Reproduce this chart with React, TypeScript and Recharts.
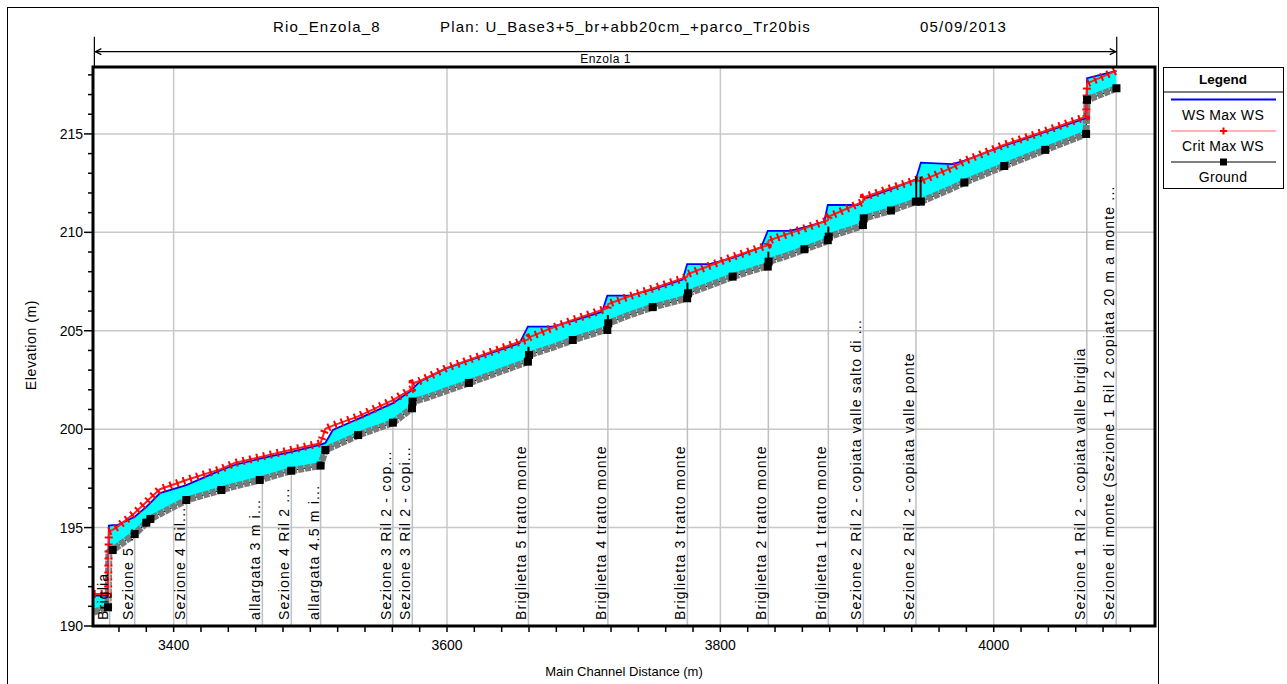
import React from "react";
import { Area, ComposedChart, Line, ReferenceArea, ReferenceLine, XAxis, YAxis } from "recharts";

// river stations (m) and elevations (m)
const station = [
  3341.5, 3352.0, 3352.6, 3355.4, 3359.0, 3371.5, 3380.0, 3383.0, 3390.0, 3409.3,
  3434.9, 3444.6, 3463.0, 3486.0, 3507.5, 3511.0, 3516.5, 3531.0, 3535.0, 3560.4,
  3574.4, 3574.8, 3580.0, 3584.0, 3599.4, 3616.0, 3653.0, 3659.2, 3660.0, 3677.0,
  3692.0, 3713.5, 3717.3, 3718.0, 3733.4, 3750.5, 3772.4, 3775.7, 3776.3, 3792.0,
  3809.0, 3829.8, 3834.7, 3835.3, 3850.5, 3861.5, 3876.0, 3878.6, 3879.3, 3900.4,
  3904.3, 3904.9, 3924.8, 3943.0, 3946.7, 3969.9, 3978.5, 4007.7, 4037.7, 4067.6,
  4068.3, 4089.8,
];
const ground = [
  190.70, 190.95, 193.75, 193.86, 194.04, 194.67, 195.25, 195.44, 195.70, 196.40,
  196.91, 197.10, 197.42, 197.89, 198.15, 198.94, 199.12, 199.56, 199.70, 200.33,
  201.06, 201.40, 201.50, 201.57, 201.95, 202.35, 203.28, 203.43, 203.77, 204.15,
  204.53, 205.00, 205.04, 205.38, 205.80, 206.20, 206.60, 206.65, 206.90, 207.30,
  207.75, 208.20, 208.26, 208.51, 208.85, 209.14, 209.50, 209.60, 209.78, 210.25,
  210.37, 210.71, 211.11, 211.56, 211.56, 212.25, 212.53, 213.37, 214.19, 215.00,
  216.73, 217.32,
];
const wsMax = [
  191.55, 191.55, 195.10, 195.13, 195.13, 195.55, 196.05, 196.25, 196.75, 197.16,
  197.93, 198.18, 198.50, 198.85, 199.22, 199.30, 199.96, 200.40, 200.52, 201.32,
  201.99, 202.05, 202.41, 202.55, 203.09, 203.50, 204.36, 205.21, 205.21, 205.21,
  205.50, 205.97, 206.78, 206.78, 206.78, 207.10, 207.60, 208.39, 208.39, 208.39,
  208.70, 209.24, 210.07, 210.07, 210.07, 210.25, 210.55, 211.39, 211.39, 211.39,
  211.55, 211.70, 212.20, 212.69, 213.54, 213.47, 213.65, 214.40, 215.10, 215.80,
  217.83, 218.20,
];
const critMax = [
  191.62, 191.62, 194.80, 194.88, 195.05, 195.74, 196.30, 196.50, 196.95, 197.42,
  197.98, 198.28, 198.58, 198.95, 199.29, 200.02, 200.18, 200.55, 200.65, 201.48,
  202.05, 202.33, 202.45, 202.58, 203.10, 203.52, 204.44, 204.55, 204.66, 205.15,
  205.55, 206.06, 206.15, 206.36, 206.75, 207.15, 207.66, 207.75, 207.88, 208.30,
  208.75, 209.24, 209.35, 209.58, 209.95, 210.20, 210.55, 210.60, 210.80, 211.44,
  211.55, 211.78, 212.25, 212.66, 212.60, 213.30, 213.62, 214.45, 215.15, 215.88,
  217.57, 218.22,
];
// surveyed cross sections (black squares), the rest are interpolated
const xsStations = [
  3352.0, 3355.4, 3371.5, 3380.0, 3383.0, 3409.3, 3434.9, 3463.0, 3486.0, 3507.5,
  3511.0, 3535.0, 3560.4, 3574.4, 3574.8, 3616.0, 3659.2, 3660.0, 3692.0, 3717.3,
  3718.0, 3750.5, 3775.7, 3776.3, 3809.0, 3834.7, 3835.3, 3861.5, 3878.6, 3879.3,
  3904.3, 3904.9, 3924.8, 3943.0, 3946.7, 3978.5, 4007.7, 4037.7, 4067.6, 4068.3,
  4089.8,
];

// weirs / bridge faces drawn as black verticals
const structStation = [3659.6, 3717.7, 3775.9, 3835.1, 3879.0, 3943.3, 3946.5];
const structTop = [204.19, 205.8, 207.45, 209.02, 210.29, 212.83, 212.83];
const structBottom = [203.35, 204.9, 206.56, 208.09, 209.45, 211.48, 211.48];

// labelled sections
const secStation = [
  3353.2, 3371.5, 3409.5, 3464.9, 3486.1, 3507.5, 3560.4, 3574.6, 3659.6, 3717.7,
  3775.9, 3835.1, 3879.0, 3904.6, 3943.1, 4068.1, 4089.6,
];
const secGround = [
  193.8, 194.67, 196.4, 197.45, 197.89, 198.15, 200.33, 201.06, 203.43, 205.04,
  206.65, 208.26, 209.6, 210.37, 211.56, 215.0, 217.32,
];
const secLabel = [
  "Briglia",
  "Sezione 5 ...",
  "Sezione 4 Ril...",
  "allargata 3 m i...",
  "Sezione 4 Ril 2 ...",
  "allargata 4.5 m i...",
  "Sezione 3 Ril 2 - cop...",
  "Sezione 3 Ril 2 - copi...",
  "Briglietta 5 tratto monte",
  "Briglietta 4 tratto monte",
  "Briglietta 3 tratto monte",
  "Briglietta 2 tratto monte",
  "Briglietta 1 tratto monte",
  "Sezione 2 Ril 2 - copiata valle salto di ...",
  "Sezione 2 Ril 2 - copiata valle ponte",
  "Sezione 1 Ril 2 - copiata valle briglia",
  "Sezione di monte (Sezione 1 Ril 2 copiata 20 m a monte ...",
];

const reachName = "Enzola 1";
const reachStart = 3342;
const reachEnd = 4090;

const xTicks = [
  3360, 3380, 3400, 3420, 3440, 3460, 3480, 3500, 3520, 3540, 3560, 3580, 3600,
  3620, 3640, 3660, 3680, 3700, 3720, 3740, 3760, 3780, 3800, 3820, 3840, 3860,
  3880, 3900, 3920, 3940, 3960, 3980, 4000, 4020, 4040, 4060, 4080, 4100,
];
const xLabels = [3400, 3600, 3800, 4000];
const yTicks = [
  190, 191, 192, 193, 194, 195, 196, 197, 198, 199, 200, 201, 202, 203, 204,
  205, 206, 207, 208, 209, 210, 211, 212, 213, 214, 215, 216, 217, 218,
];
const yLabels = [190, 195, 200, 205, 210, 215];

const FONT = '"Liberation Sans", Arial, sans-serif';
const X_MIN = 3341;
const X_MAX = 4118;
const Y_MIN = 190;
const Y_MAX = 218.4;
const ARROW_Y = 219.18;

const rows = station.map((d, i) => ({
  d,
  ground: ground[i],
  ws: wsMax[i],
  crit: critMax[i],
  band: [ground[i], wsMax[i]],
  xs: xsStations.includes(d),
}));

const XTick = (props: any) => {
  const { x, y, payload } = props;
  const major = xLabels.includes(payload.value);
  return (
    <g>
      <line x1={x} y1={y} x2={x} y2={y + 6} stroke="#000" strokeWidth={1.5} />
      {major && (
        <text x={x} y={y + 24} textAnchor="middle" fontSize={14} fontFamily={FONT} fill="#000">
          {payload.value}
        </text>
      )}
    </g>
  );
};

const YTick = (props: any) => {
  const { x, y, payload } = props;
  const major = yLabels.includes(payload.value);
  return (
    <g>
      <line x1={x} y1={y} x2={x - (major ? 9 : 5)} y2={y} stroke="#000" strokeWidth={1.5} />
      {major && (
        <text x={x - 10} y={y + 5} textAnchor="end" fontSize={14} fontFamily={FONT} fill="#000">
          {payload.value}
        </text>
      )}
    </g>
  );
};

const SecLabel = (props: any) => {
  const { viewBox, text } = props;
  if (!viewBox) return null;
  const x = viewBox.x - 2;
  const y = viewBox.y + viewBox.height - 6;
  return (
    <text
      transform={`translate(${x},${y}) rotate(-90)`}
      fontSize={14}
      fontFamily={FONT}
      letterSpacing={1.2}
      fill="#000"
    >
      {text}
    </text>
  );
};

const XsDot = (p: any) =>
  p.payload && p.payload.xs ? (
    <rect key={`xs-${p.index}`} x={p.cx - 4} y={p.cy - 4} width={8} height={8} fill="#000" />
  ) : (
    <g key={`n-${p.index}`} />
  );

const ReachArrow = (p: any) => {
  const { x1, y1, x2 } = p;
  const mid = (x1 + x2) / 2;
  return (
    <g>
      <line x1={x1} y1={y1} x2={x2} y2={y1} stroke="#000" strokeWidth={1.2} />
      <line x1={x1} y1={y1 - 15} x2={x1} y2={y1 + 16} stroke="#000" strokeWidth={1.2} />
      <line x1={x2} y1={y1 - 15} x2={x2} y2={y1 + 16} stroke="#000" strokeWidth={1.2} />
      <path d={`M${x1 + 7},${y1 - 3} L${x1 + 1},${y1} L${x1 + 7},${y1 + 3}`} fill="none" stroke="#000" strokeWidth={1.2} />
      <path d={`M${x2 - 7},${y1 - 3} L${x2 - 1},${y1} L${x2 - 7},${y1 + 3}`} fill="none" stroke="#000" strokeWidth={1.2} />
      <rect x={mid - 26} y={y1 + 1} width={52} height={13} fill="#fff" />
      <text x={mid} y={y1 + 11} textAnchor="middle" fontSize={12} letterSpacing={0.5} fontFamily={FONT} fill="#000">
        {reachName}
      </text>
    </g>
  );
};

const LegendBox = () => (
  <svg width={121} height={122} style={{ display: "block" }}>
    <rect x={0.5} y={0.5} width={120} height={121} fill="#fff" stroke="#000" />
    <text x={60} y={17} textAnchor="middle" fontWeight="bold" fontSize={13.5} fontFamily={FONT}>Legend</text>
    <line x1={0} y1={25} x2={121} y2={25} stroke="#000" />
    <line x1={8} y1={32.5} x2={113} y2={32.5} stroke="#0000ff" strokeWidth={2} />
    <text x={60} y={53} textAnchor="middle" fontSize={14} letterSpacing={0.3} fontFamily={FONT}>WS  Max WS</text>
    <line x1={8} y1={64} x2={113} y2={64} stroke="#ff4040" strokeWidth={0.8} />
    <path d="M57,64 H64 M60.5,60.5 V67.5" stroke="#ff0000" strokeWidth={2} />
    <text x={60} y={84} textAnchor="middle" fontSize={14} letterSpacing={0.3} fontFamily={FONT}>Crit  Max WS</text>
    <line x1={8} y1={95} x2={113} y2={95} stroke="#000" strokeWidth={1} />
    <rect x={57} y={91.5} width={7} height={7} fill="#000" />
    <text x={60} y={115} textAnchor="middle" fontSize={14} letterSpacing={0.3} fontFamily={FONT}>Ground</text>
  </svg>
);

const titleStyle: React.CSSProperties = {
  position: "absolute",
  top: 18,
  fontSize: 15,
  letterSpacing: 1.2,
  whiteSpace: "pre",
};

export default function App() {
  return (
    <div style={{ position: "absolute", left: 0, top: 0, width: 1287, height: 684, background: "#fff", fontFamily: FONT }}>
      <div style={{ position: "absolute", left: 7, top: 7, width: 1150, height: 690, border: "1px solid #000" }} />
      <div style={{ ...titleStyle, left: 273 }}>Rio_Enzola_8</div>
      <div style={{ ...titleStyle, left: 440 }}>Plan: U_Base3+5_br+abb20cm_+parco_Tr20bis</div>
      <div style={{ ...titleStyle, left: 920 }}>05/09/2013</div>
      <ComposedChart
        width={1287}
        height={684}
        data={rows}
        margin={{ top: 67, right: 132, bottom: 28, left: 33 }}
      >
        <XAxis
          dataKey="d"
          type="number"
          domain={[X_MIN, X_MAX]}
          allowDataOverflow
          ticks={xTicks}
          interval={0}
          tickSize={0}
          tickMargin={0}
          tickLine={false}
          axisLine={false}
          tick={<XTick />}
          height={30}
        />
        <YAxis
          type="number"
          domain={[Y_MIN, Y_MAX]}
          allowDataOverflow
          ticks={yTicks}
          interval={0}
          tickSize={0}
          tickMargin={0}
          tickLine={false}
          axisLine={false}
          tick={<YTick />}
          width={60}
        />
        {yLabels.slice(1).map((v) => (
          <ReferenceLine key={`gy-${v}`} y={v} stroke="#c8c8c8" strokeWidth={1.5} zIndex={-50} />
        ))}
        {xLabels.map((v) => (
          <ReferenceLine key={`gx-${v}`} x={v} stroke="#c8c8c8" strokeWidth={1.5} zIndex={-50} />
        ))}
        <Area
          dataKey="band"
          type="linear"
          fill="#00ffff"
          fillOpacity={1}
          stroke="none"
          isAnimationActive={false}
          zIndex={100}
        />
        <Line dataKey="ground" type="linear" stroke="#000" strokeWidth={1} dot={false} isAnimationActive={false} zIndex={400} />
        <Line
          dataKey="ground"
          type="linear"
          stroke="#7a7a7a"
          strokeWidth={7}
          strokeDasharray="6 1"
          dot={false}
          isAnimationActive={false}
          zIndex={400}
        />
        <Line dataKey="ws" type="linear" stroke="#0000ff" strokeWidth={1.8} dot={false} isAnimationActive={false} zIndex={400} />
        <Line dataKey="crit" type="linear" stroke="#ff2020" strokeWidth={2} dot={false} isAnimationActive={false} zIndex={400} />
        <Line
          dataKey="crit"
          type="linear"
          stroke="#ff0000"
          strokeWidth={8}
          strokeDasharray="2 5"
          dot={false}
          isAnimationActive={false}
          zIndex={400}
        />
        {secStation.map((s, i) => (
          <ReferenceLine
            key={`sec-${i}`}
            segment={[{ x: s, y: secGround[i] }, { x: s, y: Y_MIN }]}
            stroke="#c0c0c0"
            strokeWidth={1.5}
            zIndex={450}
            label={<SecLabel text={secLabel[i]} />}
          />
        ))}
        {structStation.map((s, i) => (
          <ReferenceLine
            key={`st-${i}`}
            segment={[{ x: s, y: structBottom[i] }, { x: s, y: structTop[i] }]}
            stroke="#000"
            strokeWidth={2}
            zIndex={500}
          />
        ))}
        <Line
          dataKey="ground"
          type="linear"
          stroke="transparent"
          strokeWidth={0}
          dot={XsDot}
          isAnimationActive={false}
          zIndex={600}
        />
        <ReferenceLine
          segment={[{ x: reachStart, y: ARROW_Y }, { x: reachEnd, y: ARROW_Y }]}
          ifOverflow="visible"
          shape={ReachArrow}
          zIndex={700}
        />
        <ReferenceArea
          x1={X_MIN}
          x2={X_MAX}
          y1={Y_MIN}
          y2={Y_MAX}
          fill="none"
          stroke="#000"
          strokeWidth={3}
          ifOverflow="visible"
          zIndex={700}
        />
      </ComposedChart>
      <div
        style={{
          position: "absolute",
          left: 31,
          top: 345,
          fontSize: 14,
          letterSpacing: 0.6,
          whiteSpace: "nowrap",
          transform: "translate(-50%, -50%) rotate(-90deg)",
        }}
      >
        Elevation (m)
      </div>
      <div style={{ position: "absolute", left: 0, width: 1248, top: 664, textAlign: "center", fontSize: 13 }}>
        Main Channel Distance (m)
      </div>
      <div style={{ position: "absolute", left: 1163, top: 67 }}>
        <LegendBox />
      </div>
    </div>
  );
}
